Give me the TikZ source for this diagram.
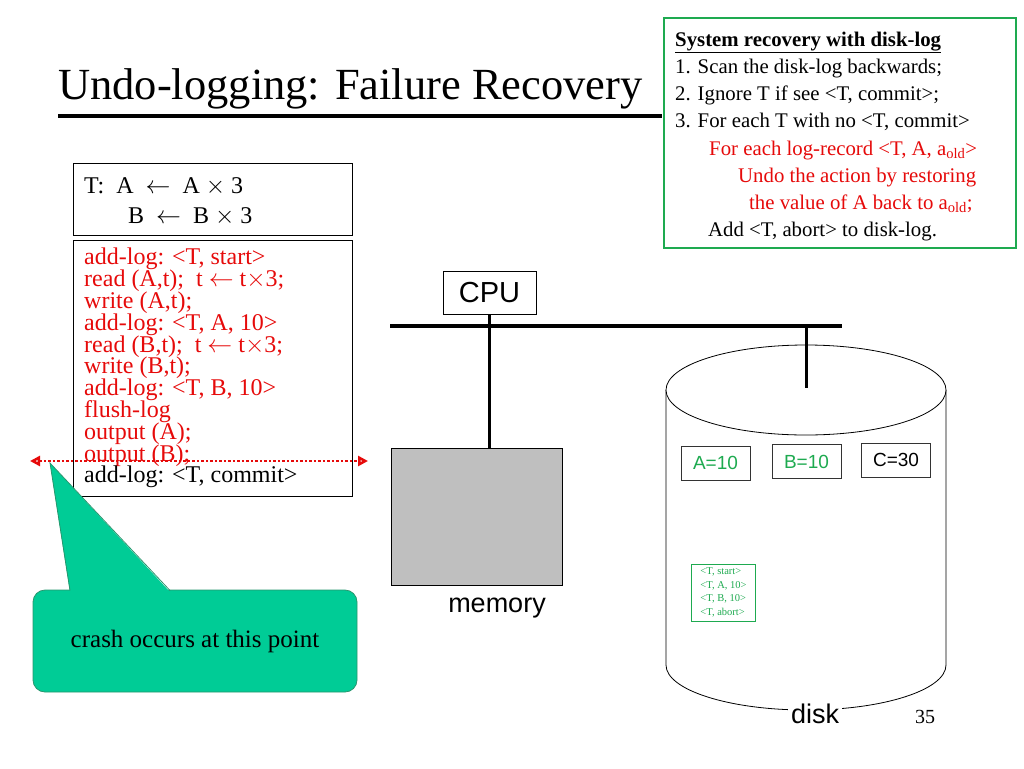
\documentclass[tikz,border=0pt]{standalone}
\usepackage{fontspec}
\setmainfont{Liberation Serif}
\newfontfamily\sansf{Liberation Sans}
\usetikzlibrary{arrows.meta}
\definecolor{boxgreen}{RGB}{30,170,80}
\definecolor{calloutfill}{RGB}{0,204,150}
\definecolor{calloutdraw}{RGB}{40,150,110}
\definecolor{logred}{RGB}{230,10,10}
\tikzset{plainbox/.style={draw,thick,fill=white,inner sep=0pt}}
\tikzset{valbox/.style={draw=black!80,thin,minimum width=69pt,minimum height=34pt,font=\sansf\fontsize{19}{19}\selectfont}}
\tikzset{codeline/.style={anchor=base west,inner sep=0pt,font=\fontsize{24}{24}\selectfont}}
\tikzset{ruleline/.style={anchor=base west,inner sep=0pt,font=\fontsize{20.8}{20}\selectfont}}

\begin{document}
\begin{tikzpicture}[x=1pt,y=-1pt]
          \useasboundingbox (0,0) rectangle (1024,768);

          % Titre
          \node [anchor=base west,inner sep=0pt,font=\fontsize{44.5}{44}\selectfont] (title) at (58,99) {Undo-logging: Failure Recovery};
          \draw [line width=4pt] (58,116) -- (662,116);

          % Regles de reprise
          \draw [boxgreen,line width=2.5pt,fill=white] (664,18) rectangle (1016,248);
          \node [ruleline] (r0) at (675,46) {\textbf{\underline{System recovery with disk-log}}};
          \node [ruleline] (r1) at (675,73) {1. Scan the disk-log backwards;};
          \node [ruleline] (r2) at (675,100) {2. Ignore T if see <T, commit>;};
          \node [ruleline] (r3) at (675,127) {3. For each T with no <T, commit>};
          \node [ruleline,logred] (r4) at (709,155) {For each log-record <T, A, a\textsubscript{old}>};
          \node [ruleline,logred] (r5) at (738,182) {Undo the action by restoring};
          \node [ruleline,logred] (r6) at (749,209) {the value of A back to a\textsubscript{old};};
          \node [ruleline] (r7) at (708,236) {Add <T, abort> to disk-log.};

          % Transaction
          \draw [thick] (73,163) rectangle (352,235);
          \node [codeline] (tA) at (84,193) {T:\ \ A \ $\leftarrow$ \ A $\times$ 3};
          \node [codeline] (tB) at (128,223) {B \ $\leftarrow$ \ B $\times$ 3};

          % Actions
          \draw [thick] (73,240) rectangle (352,496);
          \foreach \txt [count=\i] in {add-log: <T{,} start>,
                                       read (A{,}t); \ t $\leftarrow$ t$\times$3;,
                                       write (A{,}t);,
                                       add-log: <T{,} A{,} 10>,
                                       read (B{,}t); \ t $\leftarrow$ t$\times$3;,
                                       write (B{,}t);,
                                       add-log: <T{,} B{,} 10>,
                                       flush-log,
                                       output (A);,
                                       output (B);}
              \node [codeline,logred] (act\i) at (84,243+21.8*\i) {\txt};
          \node [codeline] (commit) at (84,482) {add-log: <T, commit>};

          % CPU et bus
          \node [plainbox,minimum width=93pt,minimum height=43pt,thin,font=\sansf\fontsize{29}{29}\selectfont] (cpu) at (489.5,292.5) {CPU};
          \coordinate (busL) at (390,326);
          \coordinate (busR) at (842,326);
          \draw [line width=3.5pt] (busL) -- (busR);

          % Memoire
          \node [draw,fill=black!25,minimum width=171pt,minimum height=137pt,inner sep=0pt] (mem) at (476.5,516.5) {};
          \node [font=\sansf\fontsize{27}{27}\selectfont] (memlbl) at (497,608) {memory};
          \draw [line width=3pt] (cpu.south) -- (mem.north -| cpu.south);

          % Disque
          \draw [thick,fill=white] (666,390) -- (666,665) arc (180:0:140 and 45) -- (946,390);
          \draw [thick,fill=white] (806,390) ellipse (140 and 45);
          \coordinate (diskTop) at (806,388);
          \draw [line width=3pt] (busR -| diskTop) -- (diskTop);
          \node [fill=white,font=\sansf\fontsize{27}{27}\selectfont] (disklbl) at (815,714) {disk};
          \node [fill=white,font=\fontsize{20}{20}\selectfont] (page) at (925,717) {35};
          \node [valbox,text=boxgreen] (Aval) at (715.5,463) {A=10};
          \node [valbox,text=boxgreen] (Bval) at (806.5,461.5) {B=10};
          \node [valbox] (Cval) at (896,460) {C=30};
          \node [draw=boxgreen,thick,text=boxgreen,align=left,inner xsep=9pt,inner ysep=4pt,
                 font=\fontsize{10.5}{13.5}\selectfont] (dlog) at (723.5,592.5)
                {<T, start>\\<T, A, 10>\\<T, B, 10>\\<T, abort>};

          % Panne
          \coordinate (crashL) at (30,461);
          \coordinate (crashR) at (368,461);
          \draw [logred,line width=2.5pt,dotted,{Triangle[open,fill=white,length=10pt,width=10pt]}-{Triangle[open,fill=white,length=10pt,width=10pt]}] (crashL) -- (crashR);
          \node [draw=calloutdraw,thick,fill=calloutfill,rounded corners=12pt,minimum width=324pt,minimum height=102pt,
                 font=\fontsize{25}{25}\selectfont] (crash) at (195,641) {crash occurs at this point};
          \coordinate (tip) at (50,463);
          \fill [calloutfill] (tip) -- (70,592) -- (170,592) -- cycle;
          \draw [calloutdraw,thick] (70,590.5) -- (tip) -- (170,590.5);
\end{tikzpicture}
\end{document}
